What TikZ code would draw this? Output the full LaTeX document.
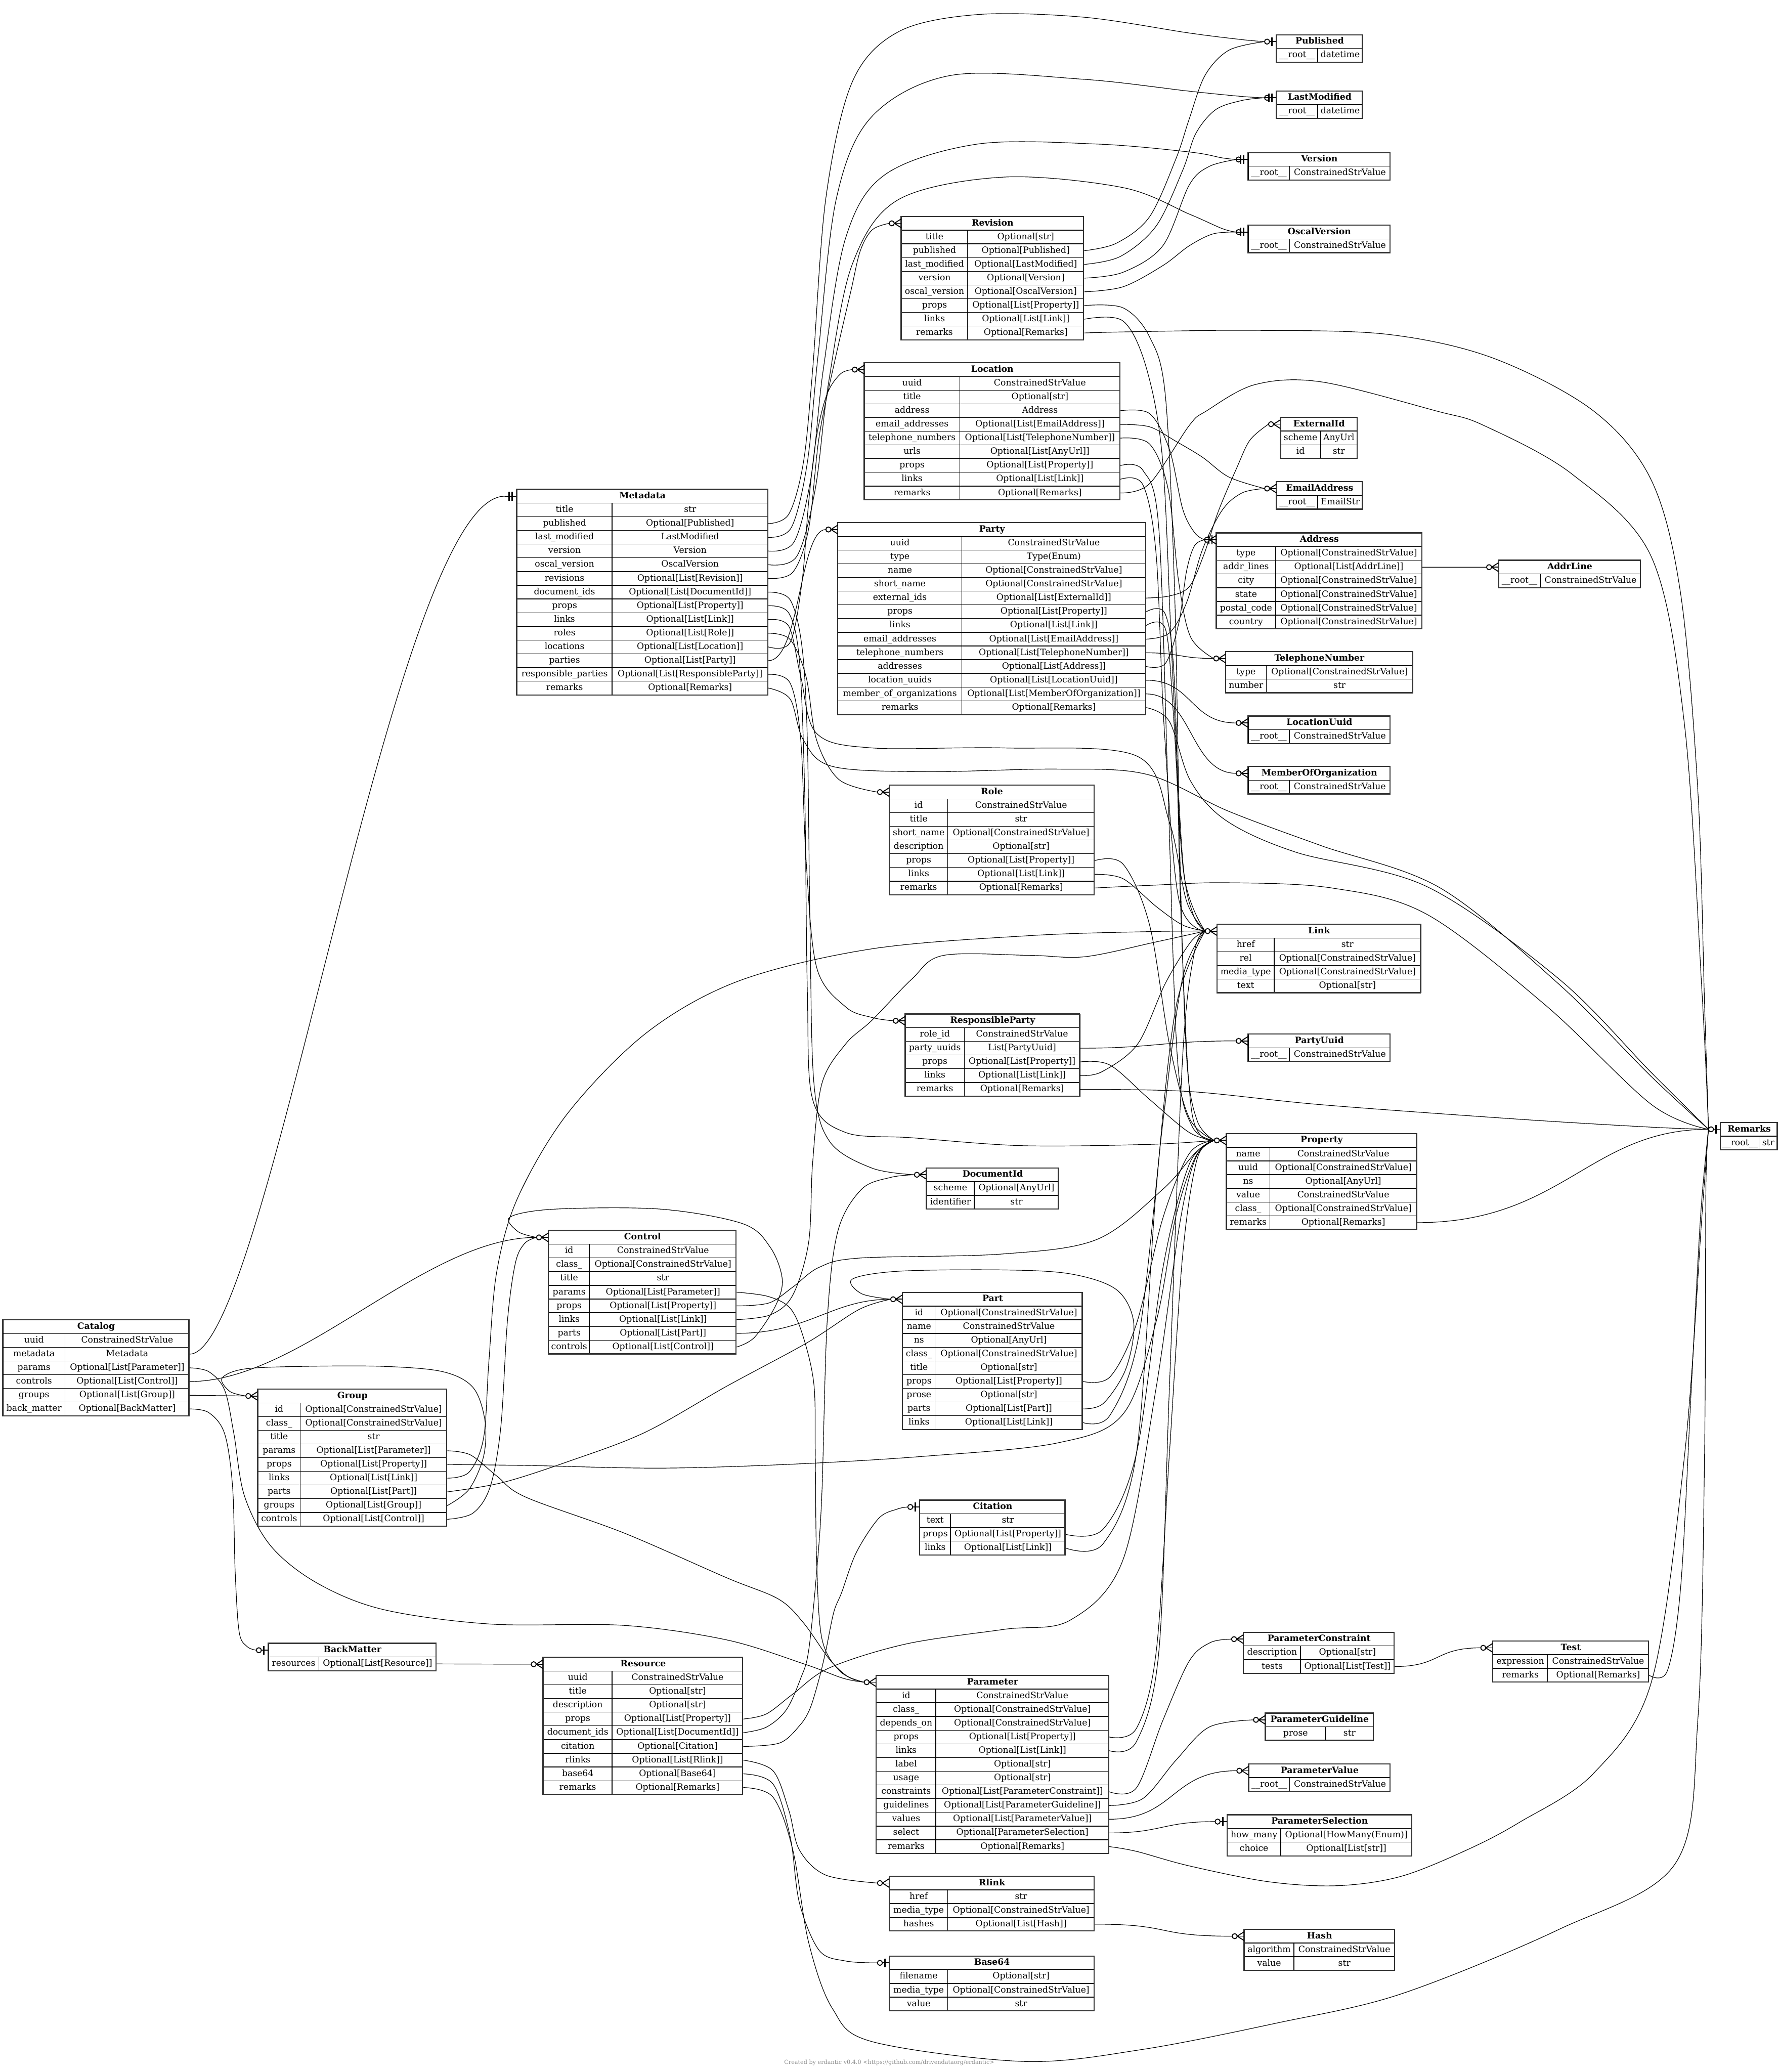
\documentclass[tikz,border=0pt]{standalone}
\usepackage{fontspec}
\setmainfont{DejaVu Serif}
\newcommand{\erdfont}{\fontsize{6.6}{8}\selectfont}
\newcommand{\erdbf}{\fontsize{6.6}{8}\selectfont\bfseries}
\pgfdeclarelayer{edgelayer}
\pgfsetlayers{edgelayer,main}
\tikzset{
  cellk/.style={draw=black, fill=white, line width=0.5pt, inner sep=0pt, minimum height=10.37pt, anchor=west, text height=4.9pt, text depth=1.4pt, font=\erdfont},
  hdrk/.style={cellk, font=\erdbf},
  edge/.style={line width=0.45pt, black},
  mk/.style={line width=0.7pt, black},
}
% #1 name, #2 x left, #3 x split, #4 x right, #5 header centre y, #6 rows, #7 title, #8 rows
\newcommand{\erd}[8]{%
  \node[hdrk, minimum width={(#4)-(#2)}] (#1) at (#2,#5) {#7};
  \foreach \kk/\vv [count=\ri] in {#8} {
    \node[cellk, minimum width={(#3)-(#2)}] (#1-k\ri) at (#2,{#5+10.37*\ri}) {\kk};
    \node[cellk, minimum width={(#4)-(#3)}] (#1-\ri) at (#3,{#5+10.37*\ri}) {\vv};
  }
  \draw[line width=0.9pt, draw=black!80] (#2,{#5-5.185}) rectangle (#4,{#5+10.37*#6+5.185});
  \coordinate (#1-in) at ([xshift=-9pt]#1.west);
}
\newcommand{\mkcrow}[1]{%
  \draw[mk] ([yshift=3.3pt]#1.west) -- ([xshift=-5.2pt]#1.west) -- ([yshift=-3.3pt]#1.west);
  \draw[mk] (#1.west) -- ([xshift=-5.2pt]#1.west);
  \draw[mk, fill=white] ([xshift=-7.1pt]#1.west) circle[radius=1.9pt];
}
\newcommand{\mkone}[1]{%
  \draw[mk] (#1.west) -- ([xshift=-5.2pt]#1.west);
  \draw[mk, line width=1.1pt] ([xshift=-3.3pt,yshift=3.3pt]#1.west) -- ([xshift=-3.3pt,yshift=-3.3pt]#1.west);
  \draw[mk, fill=white] ([xshift=-7.1pt]#1.west) circle[radius=1.9pt];
}
\newcommand{\mktwo}[1]{%
  \draw[mk] (#1.west) -- ([xshift=-9pt]#1.west);
  \draw[mk, line width=1.1pt] ([xshift=-3.3pt,yshift=3.3pt]#1.west) -- ([xshift=-3.3pt,yshift=-3.3pt]#1.west);
  \draw[mk, line width=1.1pt] ([xshift=-5.6pt,yshift=3.3pt]#1.west) -- ([xshift=-5.6pt,yshift=-3.3pt]#1.west);
}
\newcommand{\ep}[1]{\draw[edge] plot[smooth, tension=0.55] coordinates {#1};}
\begin{document}
\begin{tikzpicture}[x=1pt, y=-1pt]
\useasboundingbox (0,0) rectangle (1346,1568);
\begin{pgfonlayer}{edgelayer}
\fill[white] (0,0) rectangle (1346,1568);
\end{pgfonlayer}

% ---------------- tables ----------------
\erd{catalog}{2}{49}{143}{1004}{6}{Catalog}{uuid/ConstrainedStrValue, metadata/Metadata, params/Optional[List[Parameter]], controls/Optional[List[Control]], groups/Optional[List[Group]], back\_matter/Optional[BackMatter]}
\erd{group}{195}{227}{338}{1056.4}{9}{Group}{id/Optional[ConstrainedStrValue], class\_/Optional[ConstrainedStrValue], title/str, params/Optional[List[Parameter]], props/Optional[List[Property]], links/Optional[List[Link]], parts/Optional[List[Part]], groups/Optional[List[Group]], controls/Optional[List[Control]]}
\erd{backmatter}{203}{241}{330}{1248.8}{1}{BackMatter}{resources/Optional[List[Resource]]}
\erd{metadata}{391}{463}{581}{375.5}{14}{Metadata}{title/str, published/Optional[Published], last\_modified/LastModified, version/Version, oscal\_version/OscalVersion, revisions/Optional[List[Revision]], document\_ids/Optional[List[DocumentId]], props/Optional[List[Property]], links/Optional[List[Link]], roles/Optional[List[Role]], locations/Optional[List[Location]], parties/Optional[List[Party]], responsible\_parties/Optional[List[ResponsibleParty]], remarks/Optional[Remarks]}
\erd{control}{415}{446}{557}{936.4}{8}{Control}{id/ConstrainedStrValue, class\_/Optional[ConstrainedStrValue], title/str, params/Optional[List[Parameter]], props/Optional[List[Property]], links/Optional[List[Link]], parts/Optional[List[Part]], controls/Optional[List[Control]]}
\erd{resource}{411}{463}{562}{1259.4}{9}{Resource}{uuid/ConstrainedStrValue, title/Optional[str], description/Optional[str], props/Optional[List[Property]], document\_ids/Optional[List[DocumentId]], citation/Optional[Citation], rlinks/Optional[List[Rlink]], base64/Optional[Base64], remarks/Optional[Remarks]}
\erd{revision}{682}{732}{820}{169}{8}{Revision}{title/Optional[str], published/Optional[Published], last\_modified/Optional[LastModified], version/Optional[Version], oscal\_version/Optional[OscalVersion], props/Optional[List[Property]], links/Optional[List[Link]], remarks/Optional[Remarks]}
\erd{location}{654}{726}{847.5}{279.7}{9}{Location}{uuid/ConstrainedStrValue, title/Optional[str], address/Address, email\_addresses/Optional[List[EmailAddress]], telephone\_numbers/Optional[List[TelephoneNumber]], urls/Optional[List[AnyUrl]], props/Optional[List[Property]], links/Optional[List[Link]], remarks/Optional[Remarks]}
\erd{party}{634}{727.6}{867}{400.7}{13}{Party}{uuid/ConstrainedStrValue, type/Type(Enum), name/Optional[ConstrainedStrValue], short\_name/Optional[ConstrainedStrValue], external\_ids/Optional[List[ExternalId]], props/Optional[List[Property]], links/Optional[List[Link]], email\_addresses/Optional[List[EmailAddress]], telephone\_numbers/Optional[List[TelephoneNumber]], addresses/Optional[List[Address]], location\_uuids/Optional[List[LocationUuid]], member\_of\_organizations/Optional[List[MemberOfOrganization]], remarks/Optional[Remarks]}
\erd{role}{673}{717}{828}{599.4}{7}{Role}{id/ConstrainedStrValue, title/str, short\_name/Optional[ConstrainedStrValue], description/Optional[str], props/Optional[List[Property]], links/Optional[List[Link]], remarks/Optional[Remarks]}
\erd{respparty}{685}{729.5}{817}{772.5}{5}{ResponsibleParty}{role\_id/ConstrainedStrValue, party\_uuids/List[PartyUuid], props/Optional[List[Property]], links/Optional[List[Link]], remarks/Optional[Remarks]}
\erd{documentid}{701}{737}{801}{889}{2}{DocumentId}{scheme/Optional[AnyUrl], identifier/str}
\erd{part}{683}{707.5}{819}{983.2}{9}{Part}{id/Optional[ConstrainedStrValue], name/ConstrainedStrValue, ns/Optional[AnyUrl], class\_/Optional[ConstrainedStrValue], title/Optional[str], props/Optional[List[Property]], prose/Optional[str], parts/Optional[List[Part]], links/Optional[List[Link]]}
\erd{citation}{696}{719}{806}{1140.4}{3}{Citation}{text/str, props/Optional[List[Property]], links/Optional[List[Link]]}
\erd{parameter}{663}{708}{839}{1273}{12}{Parameter}{id/ConstrainedStrValue, class\_/Optional[ConstrainedStrValue], depends\_on/Optional[ConstrainedStrValue], props/Optional[List[Property]], links/Optional[List[Link]], label/Optional[str], usage/Optional[str], constraints/Optional[List[ParameterConstraint]], guidelines/Optional[List[ParameterGuideline]], values/Optional[List[ParameterValue]], select/Optional[ParameterSelection], remarks/Optional[Remarks]}
\erd{rlink}{673}{717}{828}{1425}{3}{Rlink}{href/str, media\_type/Optional[ConstrainedStrValue], hashes/Optional[List[Hash]]}
\erd{base64}{673}{717}{828}{1485.4}{3}{Base64}{filename/Optional[str], media\_type/Optional[ConstrainedStrValue], value/str}
\erd{published}{966}{997}{1031}{31.5}{1}{Published}{\_\_root\_\_/datetime}
\erd{lastmodified}{966}{997}{1031}{74}{1}{LastModified}{\_\_root\_\_/datetime}
\erd{version}{944.5}{975.6}{1052}{120.7}{1}{Version}{\_\_root\_\_/ConstrainedStrValue}
\erd{oscalversion}{944.5}{975.6}{1052}{175.6}{1}{OscalVersion}{\_\_root\_\_/ConstrainedStrValue}
\erd{externalid}{969}{999}{1027}{321}{2}{ExternalId}{scheme/AnyUrl, id/str}
\erd{emailaddress}{966}{997}{1031}{369.7}{1}{EmailAddress}{\_\_root\_\_/EmailStr}
\erd{address}{920.5}{965}{1076}{408.5}{6}{Address}{type/Optional[ConstrainedStrValue], addr\_lines/Optional[List[AddrLine]], city/Optional[ConstrainedStrValue], state/Optional[ConstrainedStrValue], postal\_code/Optional[ConstrainedStrValue], country/Optional[ConstrainedStrValue]}
\erd{addrline}{1134}{1165.5}{1241.5}{429.2}{1}{AddrLine}{\_\_root\_\_/ConstrainedStrValue}
\erd{telnumber}{927.5}{958}{1069}{498.3}{2}{TelephoneNumber}{type/Optional[ConstrainedStrValue], number/str}
\erd{locationuuid}{944.5}{975.5}{1052}{547.1}{1}{LocationUuid}{\_\_root\_\_/ConstrainedStrValue}
\erd{memberof}{944.5}{975.5}{1052}{585.2}{1}{MemberOfOrganization}{\_\_root\_\_/ConstrainedStrValue}
\erd{link}{921}{964}{1075}{704.6}{4}{Link}{href/str, rel/Optional[ConstrainedStrValue], media\_type/Optional[ConstrainedStrValue], text/Optional[str]}
\erd{partyuuid}{944.5}{975.5}{1052}{787.7}{1}{PartyUuid}{\_\_root\_\_/ConstrainedStrValue}
\erd{property}{928}{960.7}{1072}{863}{6}{Property}{name/ConstrainedStrValue, uuid/Optional[ConstrainedStrValue], ns/Optional[AnyUrl], value/ConstrainedStrValue, class\_/Optional[ConstrainedStrValue], remarks/Optional[Remarks]}
\erd{remarks}{1302}{1331}{1345}{854.6}{1}{Remarks}{\_\_root\_\_/str}
\erd{paramconstraint}{941}{984}{1055}{1240.4}{2}{ParameterConstraint}{description/Optional[str], tests/Optional[List[Test]]}
\erd{test}{1129.6}{1171}{1247.5}{1247}{2}{Test}{expression/ConstrainedStrValue, remarks/Optional[Remarks]}
\erd{paramguideline}{957.6}{1002.8}{1039.3}{1301.5}{1}{ParameterGuideline}{prose/str}
\erd{paramvalue}{945}{975.7}{1052}{1340}{1}{ParameterValue}{\_\_root\_\_/ConstrainedStrValue}
\erd{paramselection}{928.6}{969}{1068.3}{1378.5}{2}{ParameterSelection}{how\_many/Optional[HowMany(Enum)], choice/Optional[List[str]]}
\erd{hash}{941.5}{979}{1055.3}{1465.2}{2}{Hash}{algorithm/ConstrainedStrValue, value/str}

% ---------------- end markers ----------------
\foreach \n in {group,control,parameter,resource,revision,location,party,role,respparty,documentid,part,link,property,externalid,emailaddress,telnumber,locationuuid,memberof,partyuuid,paramconstraint,paramguideline,paramvalue,addrline,test,rlink,hash,address} {\mkcrow{\n}}
\foreach \n in {published,lastmodified,version,oscalversion,remarks,backmatter,citation,base64,paramselection} {\mkone{\n}}
\foreach \n in {metadata,lastmodified,version,oscalversion,address} {\mktwo{\n}}

% ---------------- connectors ----------------
\begin{pgfonlayer}{edgelayer}
% Catalog
\draw[edge] (catalog-2.east) .. controls +(60,0) and +(-85,0) .. (metadata-in);
\ep{(catalog-3.east) (158,1038) (170,1052) (177,1085) (185,1132) (205,1170) (240,1198) (290,1218) (371,1229) (472,1230) (550,1241) (608,1259) (638,1270) (parameter-in)}
\draw[edge] (catalog-4.east) .. controls +(85,0) and +(-85,0) .. (control-in);
\draw[edge] (catalog-5.east) -- (group-in);
\ep{(catalog-6.east) (158,1069) (170,1085) (176,1125) (178,1190) (181,1235) (187,1246) (backmatter-in)}
% Group
\ep{(group-4.east) (356,1101) (376,1117) (398,1133) (472,1160) (550,1194) (589,1210) (608,1228) (628,1256) (642,1269) (parameter-in)}
\ep{(group-5.east) (400,1109) (500,1111) (600,1108) (700,1102) (800,1092) (850,1070) (875,1000) (890,920) (905,875) (property-in)}
\ep{(group-6.east) (355,1114) (366,1088) (370,1030) (376,962) (392,906) (430,842) (490,781) (560,742) (660,718) (780,708) (870,705) (link-in)}
\ep{(group-7.east) (380,1122) (430,1106) (488,1084) (550,1049) (611,1016) (650,991) (part-in)}
\ep{(group-8.east) (355,1127) (366,1102) (367,1075) (358,1050) (335,1038) (290,1034) (230,1034) (185,1036) (168,1043) (174,1053) (group-in)}
\ep{(group-9.east) (358,1145) (371,1125) (379,1080) (384,1000) (390,956) (397,941) (control-in)}
% BackMatter
\draw[edge] (backmatter-1.east) -- (resource-in);
% Metadata
\ep{(metadata-2.east) (597,389) (608,350) (615,280) (625,150) (645,62) (680,24) (740,11) (820,13) (900,25) (940,30) (published-in)}
\ep{(metadata-3.east) (599,399) (611,350) (619,270) (633,150) (660,88) (720,57) (820,60) (900,69) (940,73) (lastmodified-in)}
\ep{(metadata-4.east) (601,410) (614,360) (623,280) (640,180) (670,132) (740,109) (830,109) (900,115) (925,119.5) (version-in)}
\ep{(metadata-5.east) (603,421) (617,370) (627,290) (645,200) (680,151) (760,134) (850,142) (900,162) (925,173) (oscalversion-in)}
\ep{(metadata-6.east) (600,433) (612,400) (620,330) (632,272) (644,220) (651,190) (660,174) (revision-in)}
\ep{(metadata-7.east) (598,454) (607,490) (611,560) (613,700) (616,820) (628,864) (660,884) (documentid-in)}
\ep{(metadata-8.east) (597,464) (605,500) (609,600) (611,750) (615,832) (640,857) (690,861) (774,867) (870,866) (property-in)}
\ep{(metadata-9.east) (597,474) (606,512) (618,555) (660,566) (760,566) (860,572) (885,622) (898,682) (link-in)}
\ep{(metadata-10.east) (598,484) (610,512) (618,560) (635,590) (role-in)}
\ep{(metadata-11.east) (598,486) (607,440) (612,380) (618,330) (626,298) (636,283) (location-in)}
\draw[edge] (metadata-12.east) .. controls +(24,0) and +(-20,0) .. (party-in);
\ep{(metadata-13.east) (598,517) (606,560) (610,650) (618,732) (640,762) (660,770) (respparty-in)}
\ep{(metadata-14.east) (598,529) (608,560) (630,580) (700,584) (800,582) (868,586) (930,614) (1000,640) (1090,672) (1180,745) (1250,815) (remarks-in)}
% Control
\ep{(control-4.east) (581,981) (598,990) (608,1012) (616,1048) (617,1100) (618,1180) (622,1240) (636,1265) (parameter-in)}
\ep{(control-5.east) (582,986) (600,974) (620,959) (651,952) (758,949) (830,938) (880,900) (905,872) (property-in)}
\ep{(control-6.east) (583,995) (600,980) (612,940) (615,880) (622,820) (640,790) (660,772) (690,741) (714,723) (780,723) (821,724) (874,713) (link-in)}
\draw[edge] (control-7.east) .. controls +(55,0) and +(-45,0) .. (part-in);
\ep{(control-8.east) (571,1012) (587,988) (592,968) (583,944) (562,926) (500,915) (420,915) (386,921) (392,932) (control-in)}
% Resource
\ep{(resource-4.east) (580,1297) (600,1282) (628,1262) (686,1244) (760,1233) (810,1226) (850,1180) (875,1050) (893,925) (905,876) (property-in)}
\ep{(resource-5.east) (580,1307) (595,1294) (606,1270) (612,1249) (618,1190) (622,1130) (626,1000) (634,932) (652,900) (674,891) (documentid-in)}
\ep{(resource-6.east) (590,1319) (605,1306) (613,1293) (620,1270) (625,1249) (631,1220) (637,1205) (648,1175) (665,1149) (679,1142) (citation-in)}
\ep{(resource-7.east) (585,1340) (597,1370) (605,1400) (625,1419) (rlink-in)}
\ep{(resource-8.east) (585,1350) (598,1390) (605,1440) (620,1476) (640,1484) (base64-in)}
\ep{(resource-9.east) (585,1360) (600,1400) (612,1470) (630,1520) (660,1545) (775,1560) (864,1551) (966,1531) (1060,1509) (1180,1460) (1268,1410) (1285,1300) (1290,1100) (1291,900) (remarks-in)}
% Revision
\ep{(revision-2.east) (845,184) (870,164) (890,120) (900,90) (912,57) (930,38) (published-in)}
\ep{(revision-3.east) (848,194) (875,171) (895,129) (905,101) (920,83) (940,76) (lastmodified-in)}
\ep{(revision-4.east) (850,206) (880,186) (900,140) (915,126) (version-in)}
\ep{(revision-5.east) (850,217) (880,201) (900,186) (918,177) (oscalversion-in)}
\ep{(revision-6.east) (850,233) (870,255) (882,300) (889,450) (893,650) (898,800) (906,848) (property-in)}
\ep{(revision-7.east) (850,243) (868,280) (880,350) (887,500) (895,650) (903,692) (link-in)}
\ep{(revision-8.east) (860,251) (950,250) (1050,253) (1130,271) (1206,311) (1250,364) (1272,450) (1285,600) (1290,760) (remarks-in)}
% Location
\ep{(location-3.east) (870,313) (885,340) (895,385) (904,403) (address-in)}
\ep{(location-4.east) (870,323) (890,334) (910,346) (930,361) (emailaddress-in)}
\ep{(location-5.east) (870,336) (884,370) (892,440) (901,482) (telnumber-in)}
\ep{(location-7.east) (865,356) (877,400) (884,600) (891,800) (902,852) (property-in)}
\ep{(location-8.east) (865,367) (875,420) (881,550) (892,680) (link-in)}
\ep{(location-9.east) (870,366) (900,322) (913,311) (950,291) (1000,289) (1087,311) (1123,322) (1190,359) (1250,422) (1275,550) (1288,750) (remarks-in)}
% Party
\ep{(party-5.east) (885,451) (900,444) (911,420) (922,387) (936,354) (946,333) (externalid-in)}
\ep{(party-6.east) (882,465) (889,520) (894,700) (902,842) (property-in)}
\ep{(party-7.east) (882,476) (888,540) (896,662) (link-in)}
\ep{(party-8.east) (885,479) (898,456) (910,416) (925,386) (940,373) (emailaddress-in)}
\draw[edge] (party-9.east) .. controls +(25,0) and +(-25,0) .. (telnumber-in);
\ep{(party-10.east) (882,502) (892,472) (898,432) (904,413) (address-in)}
\draw[edge] (party-11.east) .. controls +(35,0) and +(-35,0) .. (locationuuid-in);
\draw[edge] (party-12.east) .. controls +(35,0) and +(-35,0) .. (memberof-in);
\ep{(party-13.east) (885,546) (901,591) (928,621) (981,645) (1080,671) (1180,741) (1250,812) (remarks-in)}
% Role
\ep{(role-5.east) (850,654) (870,700) (885,790) (900,846) (property-in)}
\ep{(role-6.east) (850,665) (875,686) (895,700) (link-in)}
\ep{(role-7.east) (870,670) (928,668) (1008,672) (1080,692) (1170,761) (1250,836) (remarks-in)}
% ResponsibleParty
\draw[edge] (respparty-2.east) .. controls +(55,0) and +(-55,0) .. (partyuuid-in);
\ep{(respparty-3.east) (840,806) (870,832) (900,857) (property-in)}
\ep{(respparty-4.east) (834,811) (861,790) (882,744) (901,713) (link-in)}
\ep{(respparty-5.east) (900,826) (1000,836) (1150,847) (1250,853) (remarks-in)}
% Part
\ep{(part-6.east) (840,1042) (860,1002) (880,922) (900,873) (property-in)}
\ep{(part-8.east) (835,1062) (852,1036) (858,1001) (845,976) (810,964) (758,961) (680,962) (645,968) (652,979) (part-in)}
\ep{(part-9.east) (840,1071) (862,1010) (880,850) (895,740) (link-in)}
% Citation
\ep{(citation-2.east) (835,1157) (860,1100) (880,960) (900,881) (property-in)}
\ep{(citation-3.east) (835,1168) (860,1100) (875,900) (890,762) (link-in)}
% Parameter
\ep{(parameter-4.east) (860,1308) (875,1250) (885,1100) (895,950) (906,877) (property-in)}
\ep{(parameter-5.east) (860,1318) (877,1250) (885,1050) (895,800) (904,720) (link-in)}
\ep{(parameter-8.east) (860,1353) (880,1302) (900,1257) (916,1243) (paramconstraint-in)}
\ep{(parameter-9.east) (865,1361) (890,1332) (915,1307) (paramguideline-in)}
\draw[edge] (parameter-10.east) .. controls +(50,0) and +(-50,0) .. (paramvalue-in);
\draw[edge] (parameter-11.east) .. controls +(40,0) and +(-40,0) .. (paramselection-in);
\ep{(parameter-12.east) (860,1401) (900,1412) (960,1424) (1012,1427) (1060,1420) (1110,1400) (1150,1379) (1206,1342) (1250,1272) (1275,1100) (1288,920) (remarks-in)}
% others
\draw[edge] (rlink-3.east) .. controls +(60,0) and +(-60,0) .. (hash-in);
\draw[edge] (address-2.east) -- (addrline-in);
\draw[edge] (property-6.east) .. controls +(110,0) and +(-90,0) .. (remarks-in);
\draw[edge] (paramconstraint-2.east) .. controls +(35,0) and +(-35,0) .. (test-in);
\ep{(test-2.east) (1262,1264) (1272,1200) (1280,1050) (1287,920) (remarks-in)}
\end{pgfonlayer}

\node[font=\fontsize{4.3}{5}\selectfont, text=black!45, inner sep=0pt] (footer) at (673,1561) {Created by erdantic v0.4.0 \textless https://github.com/drivendataorg/erdantic\textgreater};
\end{tikzpicture}
\end{document}
